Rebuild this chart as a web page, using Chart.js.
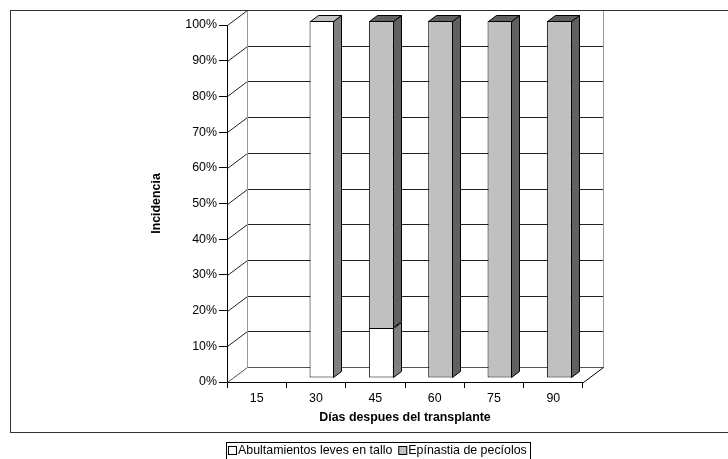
<!DOCTYPE html>
<html>
<head>
<meta charset="utf-8">
<script src="https://cdn.jsdelivr.net/npm/chart.js@4.4.0/dist/chart.umd.min.js"></script>
<style>
  html, body { margin: 0; padding: 0; background: #fff; }
  canvas { display: block; }
</style>
</head>
<body>
<canvas id="c" width="728" height="459"></canvas>
<script>
// Days after transplant and incidence (%) of each symptom
const days = ['15', '30', '45', '60', '75', '90'];
const abultamientos = [0, 100, 14, 0, 0, 0];
const epinastia = [0, 0, 86, 100, 100, 100];
const seriesNames = ['Abultamientos leves en tallo', 'Epínastia de pecíolos'];
const yStep = 10;

const FONT = '"Liberation Sans", Arial, Helvetica, sans-serif';
const DEPTH = { x: 20, y: -15 };      // depth of the floor and side wall
const BAR_SHIFT = { x: 6, y: -4 };    // bars stand slightly behind the front edge
const BAR_DEPTH = { x: 8, y: -6 };    // thickness of each column
const faces = [
  { front: '#ffffff', side: '#808080', top: '#c0c0c0' },
  { front: '#c0c0c0', side: '#606060', top: '#606060' }
];

Chart.defaults.font.family = FONT;
Chart.defaults.font.size = 12.4;
Chart.defaults.color = '#000';

const px = v => Math.round(v) + 0.5;

// Walls, floor, column sides/tops, frame and legend
const box3d = {
  id: 'box3d',
  beforeDatasetsDraw(chart) {
    const { ctx, chartArea: a, scales: { y } } = chart;
    const L = a.left, R = a.right;
    ctx.save();
    ctx.lineWidth = 1;
    y.ticks.forEach(t => {
      const yf = y.getPixelForValue(t.value);
      ctx.strokeStyle = t.value === 0 ? '#555' : '#222';
      ctx.beginPath();
      ctx.moveTo(px(L), px(yf));
      ctx.lineTo(px(L + DEPTH.x), px(yf + DEPTH.y));
      ctx.lineTo(px(R + DEPTH.x), px(yf + DEPTH.y));
      ctx.stroke();
    });
    const y0 = y.getPixelForValue(0), y1 = y.getPixelForValue(100);
    ctx.strokeStyle = '#999';
    ctx.beginPath();
    ctx.moveTo(px(L + DEPTH.x), px(y0 + DEPTH.y));
    ctx.lineTo(px(L + DEPTH.x), px(y1 + DEPTH.y));
    ctx.moveTo(px(R + DEPTH.x), px(y0 + DEPTH.y));
    ctx.lineTo(px(R + DEPTH.x), px(y1 + DEPTH.y));
    ctx.stroke();
    ctx.strokeStyle = '#000';
    ctx.beginPath();
    ctx.moveTo(px(R), px(y0));
    ctx.lineTo(px(R + DEPTH.x), px(y0 + DEPTH.y));
    ctx.stroke();
    ctx.restore();

    ctx.save();
    ctx.translate(BAR_SHIFT.x, BAR_SHIFT.y);
  },
  afterDatasetsDraw(chart) {
    const { ctx } = chart;
    ctx.lineWidth = 1;
    ctx.strokeStyle = '#000';
    const n = chart.data.labels.length;
    for (let i = 0; i < n; i++) {
      let topSeg = null;
      chart.data.datasets.forEach((ds, di) => {
        if (!ds.data[i]) return;
        const el = chart.getDatasetMeta(di).data[i];
        const { x, y, base, width } = el.getProps(['x', 'y', 'base', 'width'], true);
        const l = Math.round(x - width / 2) + 0.5;
        const r = Math.round(x + width / 2) - 0.5;
        const t = Math.round(y) + 0.5;
        const b = Math.round(base) - 0.5;
        ctx.beginPath();
        ctx.moveTo(r, t);
        ctx.lineTo(r + BAR_DEPTH.x, t + BAR_DEPTH.y);
        ctx.lineTo(r + BAR_DEPTH.x, b + BAR_DEPTH.y);
        ctx.lineTo(r, b);
        ctx.closePath();
        ctx.fillStyle = faces[di].side;
        ctx.fill();
        ctx.stroke();
        topSeg = { l, r, t, di };
      });
      if (topSeg) {
        const { l, r, t, di } = topSeg;
        ctx.beginPath();
        ctx.moveTo(l, t);
        ctx.lineTo(l + BAR_DEPTH.x, t + BAR_DEPTH.y);
        ctx.lineTo(r + BAR_DEPTH.x, t + BAR_DEPTH.y);
        ctx.lineTo(r, t);
        ctx.closePath();
        ctx.fillStyle = faces[di].top;
        ctx.fill();
        ctx.stroke();
      }
    }
    ctx.restore();
  },
  afterDraw(chart) {
    const { ctx } = chart;
    ctx.save();
    ctx.lineWidth = 1;
    // frame round the plot
    ctx.strokeStyle = '#333';
    ctx.strokeRect(10.5, 10.5, 800, 422);

    // legend
    ctx.strokeStyle = '#000';
    ctx.strokeRect(226.5, 442.5, 304, 30);
    ctx.font = `12.4px ${FONT}`;
    ctx.textBaseline = 'middle';
    let x = 228;
    chart.data.datasets.forEach(ds => {
      ctx.fillStyle = ds.backgroundColor;
      ctx.fillRect(x + 0.5, 446.5, 8, 8);
      ctx.strokeStyle = '#000';
      ctx.strokeRect(x + 0.5, 446.5, 8, 8);
      x += 10;
      ctx.fillStyle = '#000';
      ctx.fillText(ds.label, x, 451);
      x += ctx.measureText(ds.label).width + 6;
    });
    ctx.restore();
  }
};

new Chart(document.getElementById('c'), {
  type: 'bar',
  data: {
    labels: days,
    datasets: [
      {
        label: seriesNames[0], data: abultamientos,
        backgroundColor: faces[0].front, borderColor: '#000', borderWidth: 1,
        borderSkipped: false
      },
      {
        label: seriesNames[1], data: epinastia,
        backgroundColor: faces[1].front, borderColor: '#000', borderWidth: 1,
        borderSkipped: c => (abultamientos[c.dataIndex] > 0 ? 'start' : false)
      }
    ]
  },
  options: {
    responsive: false,
    animation: false,
    layout: { padding: { left: 0, right: 145, top: 25, bottom: 0 } },
    datasets: { bar: { barPercentage: 0.42, categoryPercentage: 1, clip: false } },
    plugins: { legend: { display: false }, tooltip: { enabled: false } },
    scales: {
      x: {
        stacked: true,
        grid: { offset: true, drawOnChartArea: false, drawTicks: true, tickLength: 6, color: '#000' },
        border: { display: true, color: '#000' },
        ticks: { color: '#000', padding: 3 },
        title: {
          display: true, text: 'Días despues del transplante', color: '#000',
          font: { size: 12.4, weight: 'bold' }, padding: { top: 0, bottom: 33.5 }
        },
        afterFit(s) { s.height = 77; }
      },
      y: {
        stacked: true, min: 0, max: 100,
        ticks: { stepSize: yStep, callback: v => v + '%', color: '#000', padding: 2 },
        grid: { drawOnChartArea: false, drawTicks: true, tickLength: 8, color: '#000' },
        border: { display: true, color: '#000' },
        title: {
          display: true, text: 'Incidencia', color: '#000',
          font: { size: 12.4, weight: 'bold' }, padding: { top: 149.5, bottom: 0 }
        },
        afterFit(s) { s.width = 227; }
      }
    }
  },
  plugins: [box3d]
});
</script>
</body>
</html>
